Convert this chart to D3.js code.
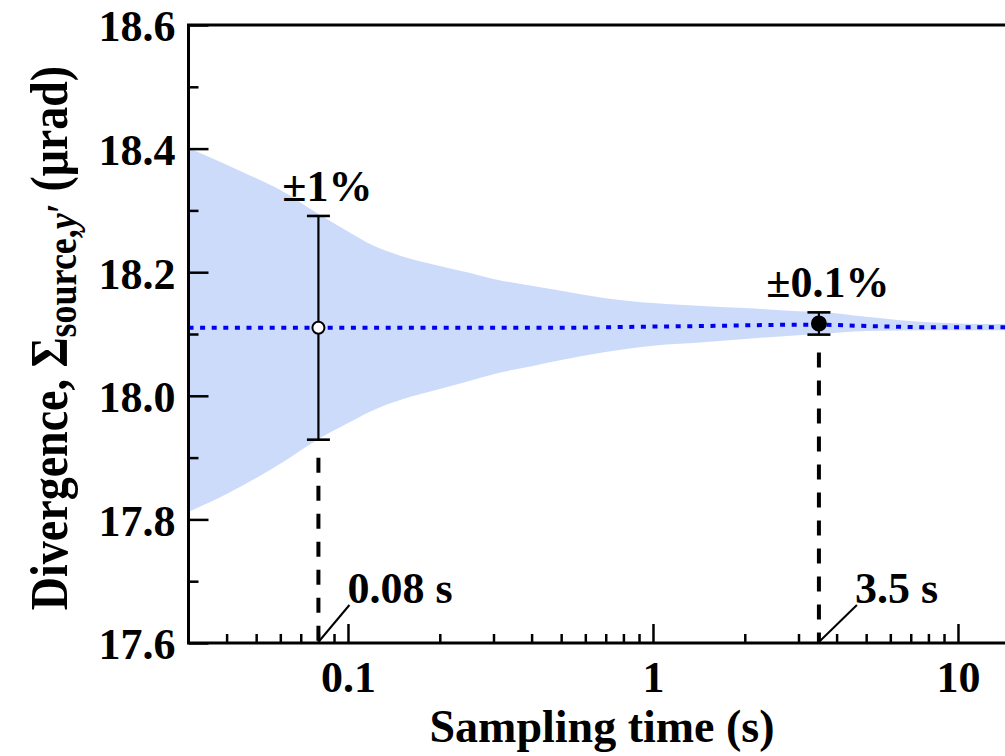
<!DOCTYPE html>
<html lang="en">
<head>
    <meta charset="UTF-8">
    <title>Divergence vs sampling time</title>
    <style>
        body { margin: 0; background: #fff; }
        svg { display: block; font-family: "Liberation Serif", "Times New Roman", serif; font-weight: bold; }
        .tick text { font-size: 44px; fill: #000; font-family: "Liberation Serif", serif; font-weight: bold; }
        .tick line { stroke: #000; stroke-width: 2.5px; }
        .frame { stroke: #000; stroke-width: 3px; fill: none; }
        .band { fill: #cddbfb; }
        .mean { stroke: #0000ee; stroke-width: 4px; fill: none; stroke-dasharray: 5 6.6; }
        .err { stroke: #000; stroke-width: 2.2px; }
        .guide { stroke: #000; stroke-width: 4px; stroke-dasharray: 15 13; }
        .leader { stroke: #000; stroke-width: 2px; }
        .lbl { font-size: 44px; fill: #000; }
    </style>
</head>
<body>
<div id="chart"></div>
<script src="https://cdn.jsdelivr.net/npm/d3@7"></script>
<script>
    const times = [0.03, 0.04, 0.05, 0.06, 0.08, 0.1, 0.12, 0.15, 0.2, 0.25, 0.3, 0.4, 0.5, 0.7, 1, 1.5, 2, 3, 3.5, 5, 8, 14, 15];
    const upper = [18.401, 18.374, 18.352, 18.333, 18.294, 18.266, 18.244, 18.226, 18.210, 18.199, 18.189, 18.178, 18.170, 18.158, 18.150, 18.145, 18.142, 18.137, 18.136, 18.128, 18.119, 18.116, 18.116];
    const lower = [17.812, 17.841, 17.867, 17.890, 17.930, 17.956, 17.976, 17.994, 18.011, 18.024, 18.035, 18.048, 18.058, 18.071, 18.081, 18.087, 18.092, 18.098, 18.100, 18.105, 18.106, 18.106, 18.106];
    const meanVals = [18.110, 18.110, 18.110, 18.110, 18.110, 18.110, 18.110, 18.110, 18.110, 18.110, 18.110, 18.110, 18.110, 18.111, 18.112, 18.113, 18.114, 18.115, 18.115, 18.113, 18.111, 18.111, 18.111];

    // marked samples
    const markTimes = [0.08, 3.5];
    const markVals = [18.11, 18.117];
    const markErr = [0.181, 0.018];
    const markPct = ["±1%", "±0.1%"];
    const markTimeLbl = ["0.08 s", "3.5 s"];
    const markFilled = [false, true];

    const yMajor = [17.6, 17.8, 18.0, 18.2, 18.4, 18.6];
    const yMinor = [17.7, 17.9, 18.1, 18.3, 18.5];
    const xMajor = [0.1, 1, 10];
    const xMinor = [0.04, 0.05, 0.06, 0.07, 0.08, 0.09, 0.2, 0.3, 0.4, 0.5, 0.6, 0.7, 0.8, 0.9, 2, 3, 4, 5, 6, 7, 8, 9];

    const W = 1005, H = 756;
    const padL = 188.5, padT = 25, padB = 643;
    const decade = 305;
    const xDomain = [0.03, 15];
    const leaderDx = [31, 38];

    const x = d3.scaleLog().domain(xDomain)
        .range([padL, padL + decade * Math.log10(xDomain[1] / xDomain[0])]);
    const y = d3.scaleLinear().domain([17.6, 18.6]).range([padB, padT]);
    const padR = x.range()[1];

    const svg = d3.select("#chart").append("svg")
        .attr("width", W).attr("height", H);

    svg.append("defs").append("clipPath").attr("id", "plot")
        .append("rect").attr("x", padL).attr("y", padT)
        .attr("width", padR - padL).attr("height", padB - padT);

    const plot = svg.append("g").attr("clip-path", "url(#plot)");

    const area = d3.area()
        .x((d, i) => x(times[i]))
        .y0((d, i) => y(lower[i]))
        .y1((d, i) => y(upper[i]))
        .curve(d3.curveMonotoneX);
    plot.append("path").attr("class", "band").attr("d", area(times));

    const line = d3.line()
        .x((d, i) => x(times[i]))
        .y((d, i) => y(meanVals[i]))
        .curve(d3.curveMonotoneX);
    plot.append("path").attr("class", "mean").attr("d", line(times));

    // dashed guides from error bar down to axis
    markTimes.forEach((t, i) => {
        plot.append("line").attr("class", "guide")
            .attr("x1", x(t)).attr("x2", x(t))
            .attr("y1", y(markVals[i] - markErr[i]) + 5).attr("y2", y(17.6))
            .attr("stroke-dashoffset", 15);
    });

    // axes
    const yAx = svg.append("g").attr("transform", `translate(${padL},0)`);
    yAx.call(d3.axisLeft(y).tickValues(yMajor).tickSize(-20).tickSizeOuter(0)
        .tickPadding(13).tickFormat(d3.format(".1f")));
    yAx.append("g").call(d3.axisLeft(y).tickValues(yMinor).tickSize(-10).tickSizeOuter(0).tickFormat(""));
    yAx.selectAll(".domain").remove();
    yAx.selectAll(".tick text").attr("dy", "0.36em");

    const xAx = svg.append("g").attr("transform", `translate(0,${padB})`);
    xAx.call(d3.axisBottom(x).tickValues(xMajor).tickSize(-19).tickSizeOuter(0)
        .tickPadding(18).tickFormat(d => String(d)));
    xAx.append("g").call(d3.axisBottom(x).tickValues(xMinor).tickSize(-9).tickSizeOuter(0).tickFormat(""));
    xAx.selectAll(".domain").remove();
    svg.selectAll("g[font-family]").attr("font-family", null).attr("font-size", null);

    svg.append("path").attr("class", "frame")
        .attr("d", `M${padR},${padT}H${padL}V${padB}H${padR}V${padT}`);

    // error bars and points
    markTimes.forEach((t, i) => {
        const cx = x(t), hi = y(markVals[i] + markErr[i]), lo = y(markVals[i] - markErr[i]);
        svg.append("line").attr("class", "err").attr("x1", cx).attr("x2", cx).attr("y1", hi).attr("y2", lo);
        [hi, lo].forEach(v => svg.append("line").attr("class", "err")
            .attr("x1", cx - 11.5).attr("x2", cx + 11.5).attr("y1", v).attr("y2", v)
            .style("stroke-width", "2.6px"));
        svg.append("circle").attr("cx", cx).attr("cy", y(markVals[i]))
            .attr("r", markFilled[i] ? 7 : 6)
            .attr("fill", markFilled[i] ? "#000" : "#fff")
            .attr("stroke", "#000").attr("stroke-width", 2);
        svg.append("text").attr("class", "lbl").attr("text-anchor", "middle")
            .attr("x", cx + 9).attr("y", hi - 15).text(markPct[i]);

        const tx = cx + leaderDx[i], ty = 605;
        svg.append("line").attr("class", "leader")
            .attr("x1", cx).attr("y1", y(17.6) - 1).attr("x2", tx).attr("y2", ty);
        svg.append("text").attr("class", "lbl").attr("x", tx - 2).attr("y", ty - 2).text(markTimeLbl[i]);
    });

    // axis titles
    svg.append("text").attr("class", "lbl").attr("text-anchor", "middle")
        .attr("x", 602).attr("y", 742).style("font-size", "46px")
        .text("Sampling time (s)");

    const yt = svg.append("text").attr("text-anchor", "middle")
        .attr("transform", "translate(67,338) rotate(-90) scale(1,1.15)")
        .style("font-size", "46px");
    yt.append("tspan").text("Divergence, Σ");
    yt.append("tspan").attr("dy", 8).style("font-size", "36px").text("source,");
    yt.append("tspan").style("font-size", "36px").style("font-style", "italic").text("y");
    yt.append("tspan").style("font-size", "36px").text("′");
    yt.append("tspan").attr("dy", -8).text("  (μrad)");
</script>
</body>
</html>
